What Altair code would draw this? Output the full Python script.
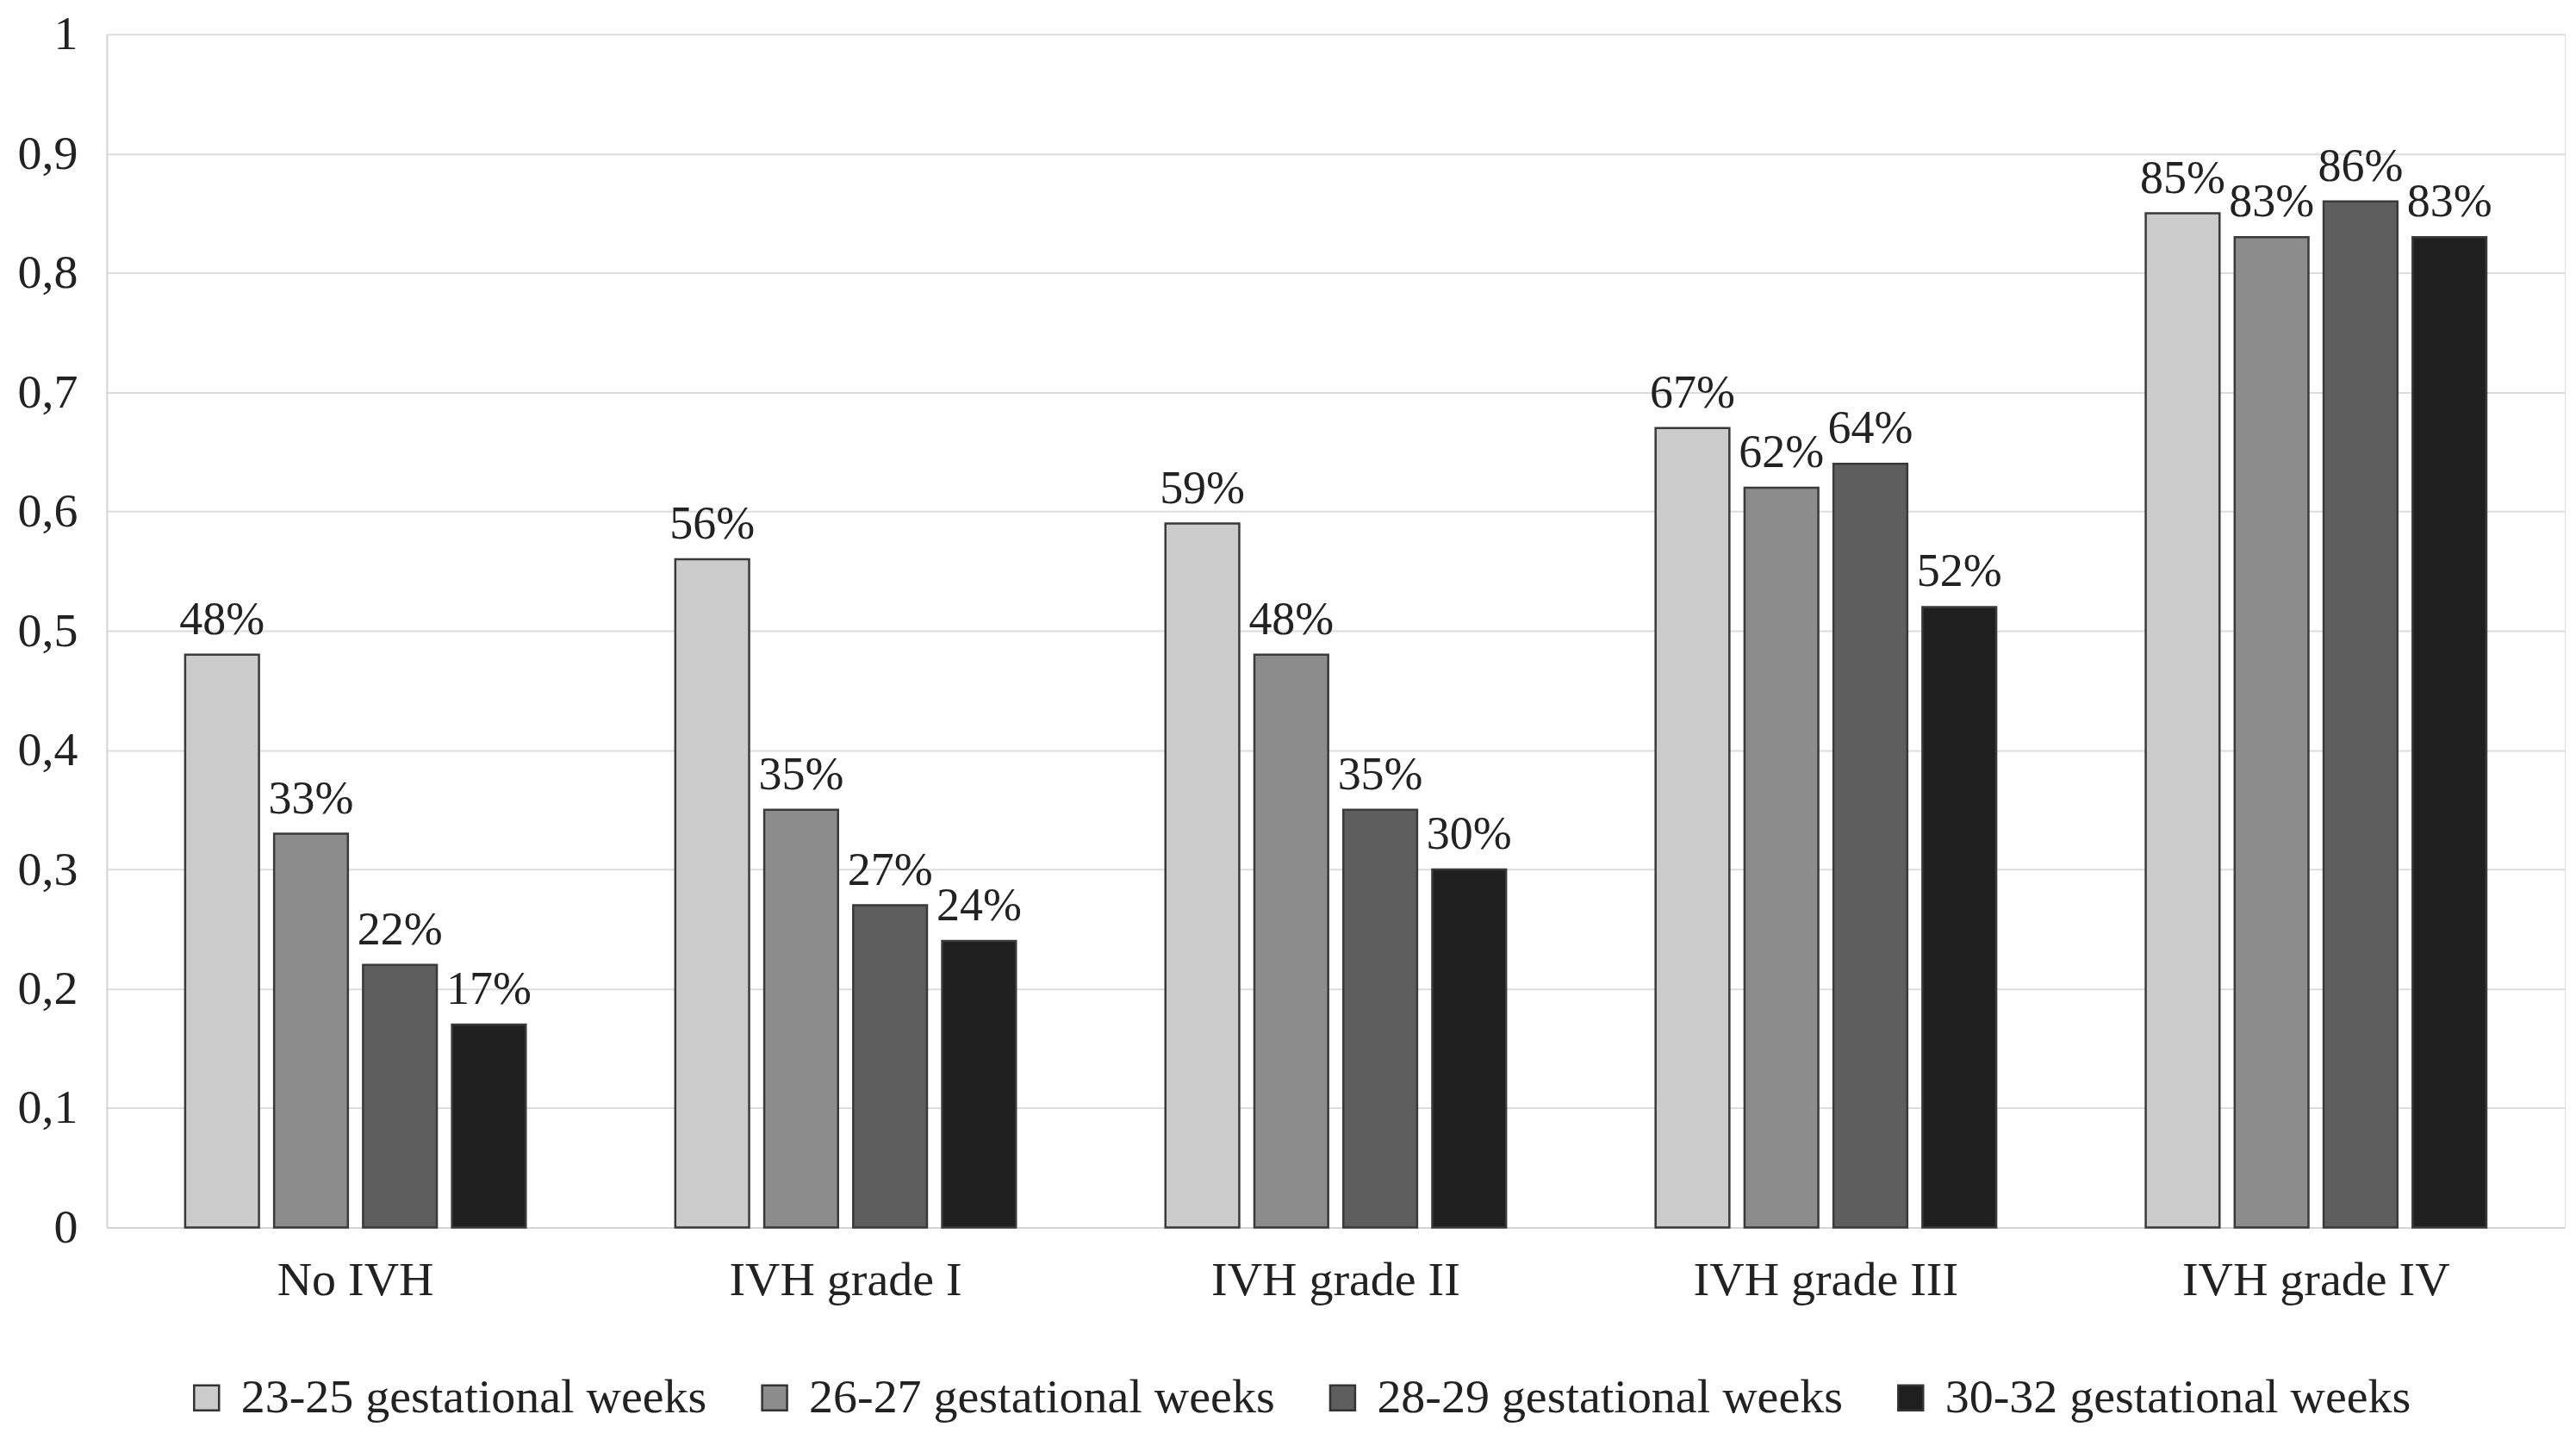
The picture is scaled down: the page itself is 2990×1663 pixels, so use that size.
import altair as alt
import pandas as pd

categories = ["No IVH", "IVH grade I", "IVH grade II", "IVH grade III", "IVH grade IV"]
groups = ["23-25 gestational weeks", "26-27 gestational weeks",
          "28-29 gestational weeks", "30-32 gestational weeks"]
v_23_25 = [0.48, 0.56, 0.59, 0.67, 0.85]
v_26_27 = [0.33, 0.35, 0.48, 0.62, 0.83]
v_28_29 = [0.22, 0.27, 0.35, 0.64, 0.86]
v_30_32 = [0.17, 0.24, 0.30, 0.52, 0.83]
fills = ["#cbcbcb", "#8c8c8c", "#5e5e5e", "#1f1f1f"]

series = [v_23_25, v_26_27, v_28_29, v_30_32]
rows = []
for g, vals in zip(groups, series):
    for c, v in zip(categories, vals):
        rows.append({"cat": c, "grp": g, "val": v, "lbl": f"{round(v*100)}%"})
df = pd.DataFrame(rows)

FONT = "Liberation Serif"

x = alt.X("cat:N", sort=categories, title=None,
          scale=alt.Scale(paddingInner=0.305, paddingOuter=0.16),
          axis=alt.Axis(labelAngle=0, labelFontSize=56, labelFont=FONT, labelColor="#222",
                        labelPadding=34, labelLimit=0, ticks=False,
                        domainColor="#d4d4d4", domainWidth=2))
xo = alt.XOffset("grp:N", sort=groups, scale=alt.Scale(paddingInner=0.17, paddingOuter=0))
y = alt.Y("val:Q", title=None,
          scale=alt.Scale(domain=[0, 1], nice=False),
          axis=alt.Axis(values=[0, 0.1, 0.2, 0.3, 0.4, 0.5, 0.6, 0.7, 0.8, 0.9, 1.0],
                        labelExpr="replace(format(datum.value, '.1~f'), '.', ',')",
                        labelFontSize=56, labelFont=FONT, labelColor="#222", labelPadding=34,
                        ticks=False, domainColor="#d4d4d4", domainWidth=2,
                        gridColor="#dcdcdc", gridWidth=2))

color = alt.Color("grp:N", sort=groups, title=None,
                  scale=alt.Scale(domain=groups, range=fills),
                  legend=alt.Legend(orient="none", direction="horizontal", columns=4,
                                    legendX=88, legendY=1556,
                                    labelFont=FONT, labelFontSize=56, labelColor="#222",
                                    symbolType="square", symbolSize=840,
                                    symbolStrokeColor="#333", symbolStrokeWidth=2.5,
                                    labelOffset=12, columnPadding=50, labelLimit=0))

bars = alt.Chart(df).mark_bar(stroke="#3a3a3a", strokeWidth=2.5).encode(
    x=x, xOffset=xo, y=y, color=color)

text = alt.Chart(df).mark_text(font=FONT, fontSize=54, color="#222", baseline="alphabetic",
                               dy=-24).encode(
    x=x, xOffset=xo, y=y, text="lbl:N")

chart = (bars + text).properties(
    width=2856, height=1386,
    autosize=alt.AutoSizeParams(type="none"),
    padding={"left": 116, "top": 31, "right": 5, "bottom": 230},
).configure_view(stroke=None).configure(background="white")

chart.save("out.html", embed_options={"renderer": "svg", "actions": False})
